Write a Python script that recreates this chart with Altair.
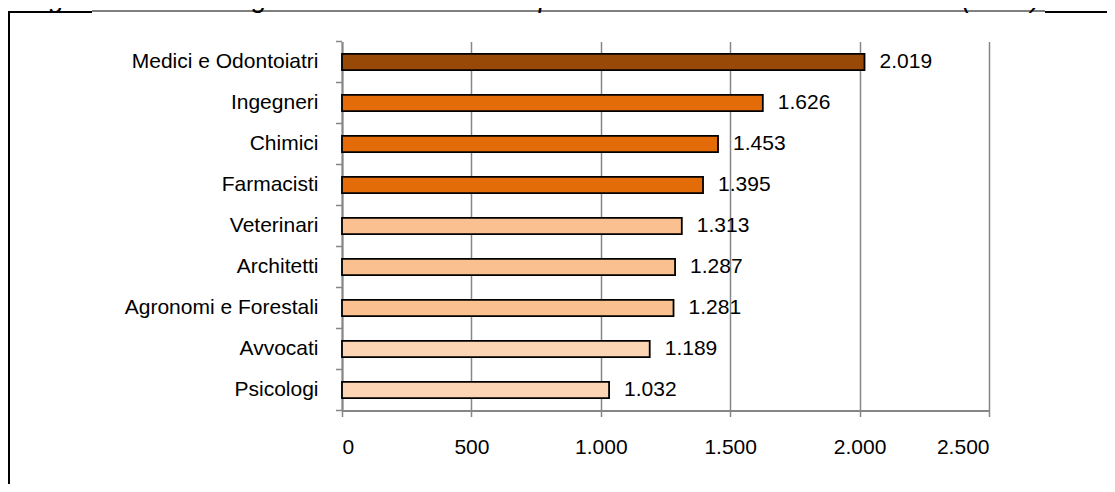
import altair as alt
import pandas as pd

categories = ["Medici e Odontoiatri", "Ingegneri", "Chimici", "Farmacisti", "Veterinari",
              "Architetti", "Agronomi e Forestali", "Avvocati", "Psicologi"]
values = [2019, 1626, 1453, 1395, 1313, 1287, 1281, 1189, 1032]
value_labels = ["2.019", "1.626", "1.453", "1.395", "1.313", "1.287", "1.281", "1.189", "1.032"]
bar_colors = ["#984807", "#E36C09", "#E36C09", "#E36C09", "#FAC090",
              "#FAC090", "#FAC090", "#FCD5B5", "#FCD5B5"]
x_ticks = [0, 500, 1000, 1500, 2000, 2500]
title_text = "Figura 56 – Guadagno mensile netto a cinque anni dal titolo di secondo livello (2006)"

FONT = "Liberation Sans"
GREY = "#868686"

df = pd.DataFrame({"cat": categories, "value": values, "label": value_labels})
one = pd.DataFrame({"a": [0]})

y_main = alt.Y("cat:N", sort=categories, title=None,
               scale=alt.Scale(paddingInner=0.6, paddingOuter=0.3),
               axis=alt.Axis(ticks=False, labelPadding=24, labelFontSize=21, labelColor="black",
                             labelFont=FONT, labelLimit=0, domainColor=GREY, domainWidth=2))
x_main = alt.X("value:Q", title=None,
               scale=alt.Scale(domain=[0, 2500], nice=False),
               axis=alt.Axis(values=x_ticks, labelExpr="replace(format(datum.value, ','), ',', '.')",
                             labelFontSize=21, labelColor="black", labelFont=FONT,
                             labelPadding=20, tickSize=6, tickColor=GREY, tickWidth=1.5,
                             domainColor=GREY, domainWidth=2, grid=True, gridColor=GREY,
                             gridWidth=1.5))

bars = alt.Chart(df).mark_bar(stroke="black", strokeWidth=1.8).encode(
    x=x_main, y=y_main,
    color=alt.Color("cat:N", scale=alt.Scale(domain=categories, range=bar_colors), legend=None),
)
texts = alt.Chart(df).mark_text(align="left", baseline="middle", dx=15, fontSize=21,
                                font=FONT, color="black").encode(
    x="value:Q", y=alt.Y("cat:N", sort=categories), text="label:N")

main = alt.layer(bars, texts)

tick_scale = alt.Scale(domain=categories, paddingInner=0, paddingOuter=0)
ticks_top = alt.Chart(df).mark_rule(color=GREY, strokeWidth=1.5).encode(
    y=alt.Y("cat:N", scale=tick_scale, bandPosition=0, axis=None),
    x=alt.value(-6), x2=alt.value(0))
ticks_bottom = alt.Chart(df).transform_filter(
    alt.datum.cat == categories[-1]).mark_rule(color=GREY, strokeWidth=1.5).encode(
    y=alt.Y("cat:N", scale=tick_scale, bandPosition=1, axis=None),
    x=alt.value(-6), x2=alt.value(0))

title = alt.Chart(one).mark_text(align="left", baseline="alphabetic", fontSize=27,
                                 fontStyle="italic", font=FONT, color="black").encode(
    x=alt.value(-315), y=alt.value(-34.5), text=alt.value(title_text))

frame_left = alt.Chart(one).mark_rule(color="black", strokeWidth=2).encode(
    x=alt.value(-333), y=alt.value(-30), y2=alt.value(600))
frame_top1 = alt.Chart(one).mark_rule(color="black", strokeWidth=2).encode(
    x=alt.value(-334), x2=alt.value(-250), y=alt.value(-29.5))
frame_top2 = alt.Chart(one).mark_rule(color="black", strokeWidth=1).encode(
    x=alt.value(-250), x2=alt.value(703), y=alt.value(-30.5))
frame_top3 = alt.Chart(one).mark_rule(color="black", strokeWidth=2).encode(
    x=alt.value(703), x2=alt.value(900), y=alt.value(-29.5))

chart = alt.layer(main, ticks_top, ticks_bottom, title,
                  frame_left, frame_top1, frame_top2, frame_top3).resolve_scale(
    y="independent"
).properties(
    width=647, height=369,
    autosize=alt.AutoSizeParams(type="none"),
    padding={"left": 334, "top": 33.5, "right": 118, "bottom": 73.5},
    background="white",
).configure_view(stroke=None)

chart.save("out.html", embed_options={"renderer": "svg", "actions": False})
